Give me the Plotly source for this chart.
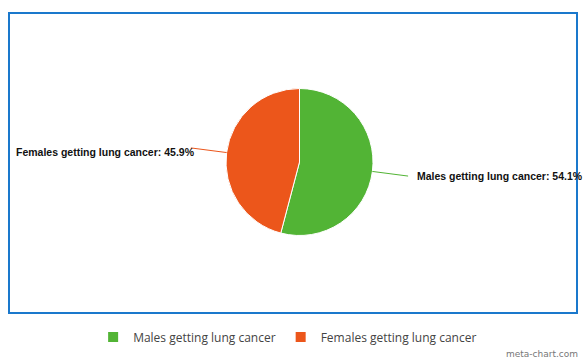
import math
import plotly.graph_objects as go

labels = ["Males getting lung cancer", "Females getting lung cancer"]
values = [54.1, 45.9]
colors = ["#52b435", "#ec561b"]

W, H = 587, 363
cx, cy, r = 299.5, 162.0, 73.5

fig = go.Figure()
fig.add_trace(go.Pie(
    labels=labels, values=values, sort=False, direction="clockwise", rotation=0,
    marker=dict(colors=colors, line=dict(color="#ffffff", width=1)),
    textinfo="none", hoverinfo="label+percent",
    domain=dict(x=[(cx - r) / W, (cx + r) / W], y=[1 - (cy + r) / H, 1 - (cy - r) / H]),
    showlegend=True,
))

def px(x):
    return x / W

def py(y):
    return 1 - y / H

total = sum(values)
start = 0.0
shapes = []
annotations = []
for lab, val, col in zip(labels, values, colors):
    mid = (start + val / 2) / total * 2 * math.pi
    start += val
    s, c = math.sin(mid), math.cos(mid)
    x0, y0 = cx + r * s, cy - r * c
    x1, y1 = cx + (r + 36) * s, cy - (r + 36) * c
    shapes.append(dict(type="line", xref="paper", yref="paper",
                       x0=px(x0), y0=py(y0), x1=px(x1), y1=py(y1),
                       line=dict(color=col, width=1)))
    right = s > 0
    annotations.append(dict(
        xref="paper", yref="paper",
        x=px(x1 + (7 if right else 6)), y=py(y1 + (0 if right else 4)),
        text=f"<b>{lab}: {val / total * 100:.1f}%</b>",
        showarrow=False, xanchor="left" if right else "right", yanchor="middle",
        font=dict(family="Liberation Sans, Arial, sans-serif", size=10.5, color="#111111"),
    ))

shapes.append(dict(type="rect", xref="paper", yref="paper",
                   x0=px(9), y0=py(13), x1=px(577), y1=py(313),
                   line=dict(color="#1a78cc", width=2)))
annotations.append(dict(xref="paper", yref="paper", x=px(580), y=py(354),
                        text="meta-chart.com", showarrow=False, xanchor="right", yanchor="middle",
                        font=dict(family="DejaVu Sans, sans-serif", size=9, color="#777777")))

fig.update_layout(
    width=W, height=H, margin=dict(l=0, r=0, t=0, b=0),
    paper_bgcolor="white", plot_bgcolor="white",
    shapes=shapes, annotations=annotations,
    legend=dict(orientation="h", x=0.49, xanchor="center", y=py(337), yanchor="middle",
                font=dict(family="Open Sans, sans-serif", size=12, color="#444444"),
                itemsizing="constant"),
)
fig.write_html("out.html", config={"displayModeBar": False},
               post_script="document.body.style.margin='0';document.body.style.overflow='hidden';")
